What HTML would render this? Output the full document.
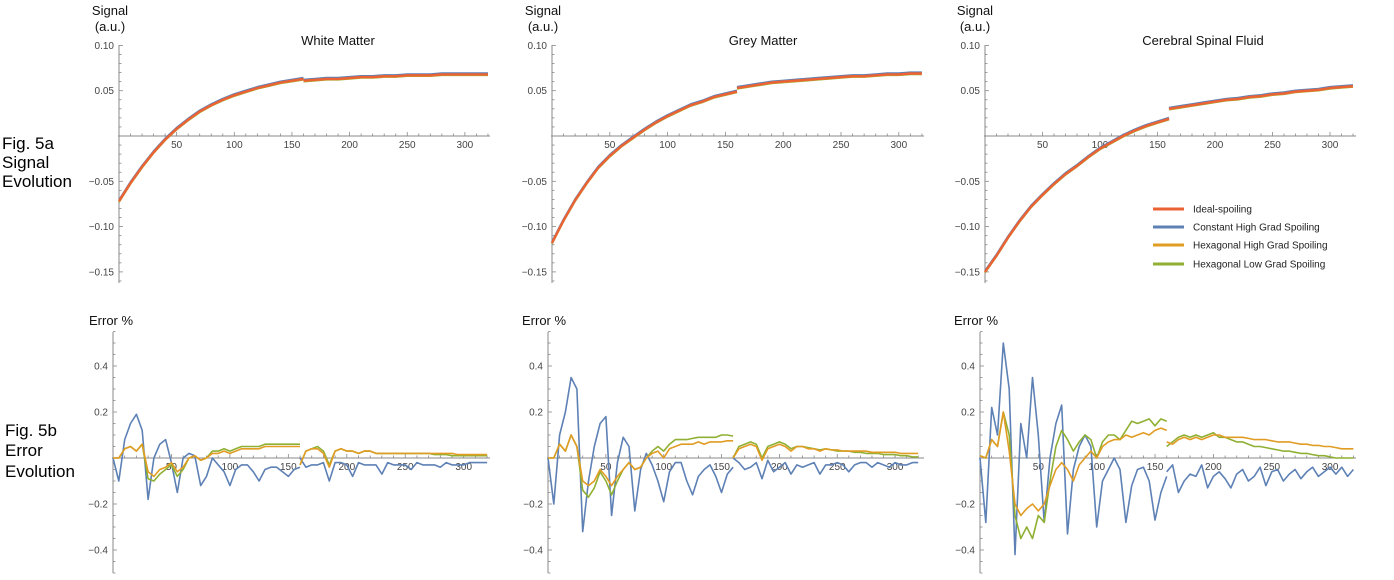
<!DOCTYPE html>
<html><head><meta charset="utf-8"><style>
body{margin:0;background:#fff;width:1394px;height:575px;overflow:hidden;font-family:"Liberation Sans",sans-serif}
svg text{font-family:"Liberation Sans",sans-serif}
</style></head><body>
<svg id="chart" width="1394" height="575" viewBox="0 0 1394 575" xmlns="http://www.w3.org/2000/svg">
<g font-size="17" fill="#000">
<text x="2" y="149">Fig. 5a</text>
<text x="2" y="168">Signal</text>
<text x="2" y="187">Evolution</text>
<text x="5" y="436">Fig. 5b</text>
<text x="5" y="456">Error</text>
<text x="5" y="477">Evolution</text>
</g>
<g id="plots"></g>
<g font-size="10" fill="#222">
<line x1="1153" y1="209" x2="1184" y2="209" stroke="#EB6235" stroke-width="3"/><text x="1193" y="212.5">Ideal-spoiling</text>
<line x1="1153" y1="227" x2="1184" y2="227" stroke="#5E81B5" stroke-width="3"/><text x="1193" y="230.5">Constant High Grad Spoiling</text>
<line x1="1153" y1="245" x2="1184" y2="245" stroke="#E19C24" stroke-width="3"/><text x="1193" y="248.5">Hexagonal High Grad Spoiling</text>
<line x1="1153" y1="264" x2="1184" y2="264" stroke="#8FB032" stroke-width="3"/><text x="1193" y="267.5">Hexagonal Low Grad Spoiling</text>
</g>
</svg>
<script>
// Signal data: x = 0..160 step 10 (segment 1) and 160..320 step 10 (segment 2)
const sigX1=[0,10,20,30,40,50,60,70,80,90,100,110,120,130,140,150,160];
const sigX2=[160,170,180,190,200,210,220,230,240,250,260,270,280,290,300,310,320];
const wmSig1=[-0.072,-0.052,-0.034,-0.018,-0.004,0.008,0.018,0.027,0.034,0.040,0.045,0.049,0.053,0.056,0.059,0.061,0.063];
const wmSig2=[0.061,0.062,0.063,0.063,0.064,0.065,0.065,0.066,0.066,0.067,0.067,0.067,0.068,0.068,0.068,0.068,0.068];
const gmSig1=[-0.118,-0.093,-0.071,-0.052,-0.035,-0.022,-0.011,-0.002,0.007,0.015,0.022,0.028,0.034,0.038,0.043,0.046,0.049];
const gmSig2=[0.053,0.055,0.057,0.059,0.060,0.061,0.062,0.063,0.064,0.065,0.066,0.066,0.067,0.068,0.068,0.069,0.069];
const csfSig1=[-0.150,-0.132,-0.112,-0.094,-0.078,-0.065,-0.053,-0.042,-0.033,-0.023,-0.014,-0.007,0.000,0.006,0.011,0.015,0.019];
const csfSig2=[0.030,0.032,0.034,0.036,0.038,0.040,0.041,0.043,0.044,0.046,0.047,0.049,0.050,0.051,0.053,0.054,0.055];

// Error data: x = 0..160 step 5 and 160..320 step 5
const errX1=[0,5,10,15,20,25,30,35,40,45,50,55,60,65,70,75,80,85,90,95,100,105,110,115,120,125,130,135,140,145,150,155,160];
const errX2=[160,165,170,175,180,185,190,195,200,205,210,215,220,225,230,235,240,245,250,255,260,265,270,275,280,285,290,295,300,305,310,315,320];
const wmBlue1=[0,-0.1,0.08,0.15,0.19,0.12,-0.18,0.0,0.06,0.08,-0.02,-0.15,0.0,0.02,0.01,-0.12,-0.08,0.0,-0.03,-0.06,-0.12,-0.05,-0.03,-0.03,-0.06,-0.1,-0.05,-0.04,-0.04,-0.06,-0.08,-0.05,-0.04];
const wmBlue2=[0.0,-0.04,-0.03,-0.03,-0.02,-0.1,-0.02,-0.02,-0.03,-0.08,-0.02,-0.03,-0.03,-0.03,-0.07,-0.02,-0.03,-0.03,-0.03,-0.05,-0.02,-0.03,-0.03,-0.03,-0.04,-0.02,-0.03,-0.03,-0.03,-0.02,-0.02,-0.02,-0.02];
const wmOrange1=[0,0,0.04,0.05,0.03,0.06,-0.06,-0.08,-0.05,-0.04,-0.02,-0.06,-0.04,0.0,0.01,-0.01,0.0,0.02,0.02,0.03,0.02,0.03,0.04,0.04,0.04,0.04,0.05,0.05,0.05,0.05,0.05,0.05,0.05];
const wmOrange2=[-0.03,0.03,0.04,0.04,0.02,-0.04,0.03,0.04,0.03,0.03,0.02,0.03,0.03,0.02,0.02,0.02,0.02,0.02,0.02,0.02,0.02,0.02,0.02,0.02,0.02,0.02,0.02,0.015,0.015,0.015,0.015,0.015,0.015];
const wmGreen1=[0,0,0.04,0.05,0.03,0.06,-0.09,-0.1,-0.07,-0.05,-0.03,-0.08,-0.05,0.0,0.01,-0.01,0.0,0.03,0.03,0.04,0.03,0.04,0.05,0.05,0.05,0.05,0.06,0.06,0.06,0.06,0.06,0.06,0.06];
const wmGreen2=[-0.03,0.03,0.04,0.05,0.03,-0.03,0.03,0.04,0.03,0.03,0.02,0.03,0.03,0.02,0.02,0.02,0.02,0.02,0.02,0.02,0.02,0.02,0.02,0.015,0.015,0.015,0.01,0.01,0.01,0.01,0.01,0.01,0.01];
const gmBlue1=[0,-0.2,0.1,0.2,0.35,0.3,-0.32,-0.1,0.05,0.15,0.18,-0.25,-0.02,0.09,0.05,-0.23,-0.05,0.02,-0.03,-0.1,-0.19,-0.06,-0.02,-0.02,-0.1,-0.16,-0.08,-0.05,-0.03,-0.08,-0.15,-0.07,-0.04];
const gmBlue2=[0.0,-0.02,-0.05,-0.04,-0.02,-0.09,-0.01,-0.06,-0.04,-0.02,-0.07,-0.03,-0.04,-0.03,-0.02,-0.07,-0.03,-0.03,-0.02,-0.03,-0.06,-0.03,-0.02,-0.02,-0.04,-0.02,-0.03,-0.04,-0.02,-0.03,-0.03,-0.02,-0.02];
const gmOrange1=[0,0,0.06,0.03,0.1,0.05,-0.1,-0.12,-0.1,-0.05,-0.08,-0.12,-0.08,-0.05,-0.02,-0.05,-0.04,0.0,0.02,0.03,0.0,0.04,0.05,0.06,0.06,0.06,0.07,0.06,0.07,0.07,0.07,0.075,0.075];
const gmOrange2=[0.0,0.04,0.05,0.06,0.05,-0.01,0.04,0.05,0.06,0.05,0.03,0.05,0.05,0.04,0.04,0.03,0.04,0.035,0.035,0.03,0.03,0.03,0.03,0.03,0.025,0.025,0.025,0.025,0.025,0.02,0.02,0.02,0.02];
const gmGreen1=[0,0,0.06,0.03,0.1,0.05,-0.14,-0.17,-0.13,-0.06,-0.1,-0.16,-0.1,-0.05,-0.02,-0.05,-0.04,0.0,0.03,0.05,0.03,0.06,0.08,0.08,0.08,0.085,0.09,0.09,0.09,0.09,0.1,0.1,0.095];
const gmGreen2=[0.0,0.05,0.06,0.07,0.06,0.0,0.05,0.06,0.07,0.06,0.04,0.05,0.05,0.045,0.04,0.035,0.04,0.035,0.03,0.03,0.03,0.025,0.025,0.02,0.02,0.02,0.015,0.015,0.015,0.01,0.01,0.005,0.005];
const csfBlue1=[0,-0.28,0.22,0.1,0.5,0.3,-0.42,0.15,0.0,0.35,0.1,-0.28,0.0,0.15,0.23,-0.33,-0.05,0.05,0.1,0.05,-0.3,-0.1,-0.05,0.0,-0.05,-0.28,-0.12,-0.05,-0.04,-0.1,-0.27,-0.15,-0.08];
const csfBlue2=[-0.06,-0.03,-0.15,-0.1,-0.07,-0.08,-0.03,-0.13,-0.08,-0.06,-0.09,-0.13,-0.07,-0.05,-0.1,-0.08,-0.04,-0.12,-0.06,-0.05,-0.1,-0.07,-0.05,-0.09,-0.06,-0.04,-0.08,-0.06,-0.04,-0.07,-0.04,-0.08,-0.05];
const csfOrange1=[0.01,0.0,0.08,0.05,0.2,0.03,-0.2,-0.25,-0.22,-0.2,-0.23,-0.2,-0.12,-0.05,-0.02,-0.05,-0.1,-0.03,0.0,0.03,0.0,0.05,0.07,0.08,0.08,0.1,0.09,0.1,0.11,0.1,0.12,0.13,0.12];
const csfOrange2=[0.07,0.06,0.08,0.09,0.08,0.09,0.08,0.09,0.1,0.1,0.09,0.09,0.09,0.09,0.085,0.08,0.08,0.08,0.075,0.07,0.07,0.07,0.065,0.06,0.06,0.055,0.055,0.05,0.05,0.045,0.04,0.04,0.04];
const csfGreen1=[0.01,0.0,0.08,0.05,0.2,0.1,-0.25,-0.35,-0.3,-0.35,-0.25,-0.28,-0.1,0.05,0.12,0.08,0.03,0.07,0.1,0.08,0.0,0.07,0.1,0.1,0.08,0.12,0.16,0.15,0.16,0.17,0.14,0.17,0.16];
const csfGreen2=[0.05,0.07,0.09,0.1,0.09,0.1,0.09,0.1,0.11,0.09,0.09,0.08,0.07,0.07,0.06,0.05,0.05,0.045,0.04,0.035,0.03,0.03,0.025,0.02,0.02,0.015,0.01,0.01,0.005,0.0,0.0,0.0,0.0];

const sigTicks=[0.10,0.05,-0.05,-0.10,-0.15];
const sigTickLabels=["0.10","0.05","\u22120.05","\u22120.10","\u22120.15"];
const errTicks=[0.4,0.2,-0.2,-0.4];
const errTickLabels=["0.4","0.2","\u22120.2","\u22120.4"];
const xTicks=[50,100,150,200,250,300];
const xTickLabels=["50","100","150","200","250","300"];

const NS="http://www.w3.org/2000/svg";
const root=document.getElementById('plots');
const C={ideal:"#EB6235",blue:"#5E81B5",orange:"#E19C24",green:"#8FB032"};
function mk(tag,attrs,parent){const e=document.createElementNS(NS,tag);for(const k in attrs)e.setAttribute(k,attrs[k]);(parent||root).appendChild(e);return e;}

function panel(p){
  const g=mk('g',{});
  
  
  const sx=v=>p.x0+v*p.kx, sy=v=>p.y0-v*p.ky;
  // axes
  const ax=mk('line',{x1:p.x0-1,y1:p.y0,x2:p.xEnd,y2:p.y0,stroke:'#888','stroke-width':1},g);
  
  
  const ay=mk('line',{x1:p.x0,y1:p.yTop,x2:p.x0,y2:p.yBot,stroke:'#888','stroke-width':1},g);
  
  
  // minor/major x ticks
  for(let v=10;v<=320;v+=10){const maj=v%50===0;mk('line',{x1:sx(v),y1:p.y0,x2:sx(v),y2:p.y0-(maj?4:2.5),stroke:'#888','stroke-width':0.8},g);}
  xTicks.forEach((v,i)=>{const t=mk('text',{x:sx(v),y:p.y0+12,'font-size':10,'text-anchor':'middle',fill:'#444'},g);t.textContent=xTickLabels[i];
    
    });
  // y ticks
  for(let v=p.minorFrom;v<=p.minorTo+1e-9;v+=p.minor){const r=Math.round(v/p.minor);const maj=Math.abs(r%p.majEvery)===0;const y=sy(v);if(y<p.yTop-1||y>p.yBot+1)continue;mk('line',{x1:p.x0,y1:y,x2:p.x0+(maj?4:2.5),y2:y,stroke:'#888','stroke-width':0.8},g);}
  p.ticks.forEach((v,i)=>{const t=mk('text',{x:p.x0-5,y:sy(v)+3.5,'font-size':10,'text-anchor':'end',fill:'#444'},g);t.textContent=p.tickLabels[i];
    
    });
  // series
  p.series.forEach(s=>{
    const d=s.xs.map((x,i)=>(i?'L':'M')+sx(x).toFixed(1)+' '+sy(s.ys[i]).toFixed(1)).join(' ');
    const path=mk('path',{d:d,fill:'none',stroke:s.c,'stroke-width':s.w||1.6,'stroke-linejoin':'round'},g);
    
    
  });
}
function sigSeries(a,b){const out=[];[["blue",0.0012],["green",-0.0008],["orange",-0.0004],["ideal",0]].forEach(([c,off])=>{
  [[sigX1,a],[sigX2,b]].forEach(([xs,ys],k)=>out.push({xs:xs,ys:ys.map(v=>v+off),c:C[c],w:c==='ideal'?2.4:2,n:c+'-signal-seg'+(k+1)}));});return out;}
function errSeries(b1,b2,o1,o2,g1,g2){return [
  {xs:errX1,ys:b1,c:C.blue,n:'constant-high-error-seg1'},{xs:errX2,ys:b2,c:C.blue,n:'constant-high-error-seg2'},
  {xs:errX1,ys:g1,c:C.green,n:'hex-low-error-seg1'},{xs:errX2,ys:g2,c:C.green,n:'hex-low-error-seg2'},
  {xs:errX1,ys:o1,c:C.orange,n:'hex-high-error-seg1'},{xs:errX2,ys:o2,c:C.orange,n:'hex-high-error-seg2'}];}

const topBase={y0:136,ky:906,yTop:45,yBot:283,ticks:sigTicks,tickLabels:sigTickLabels,minor:0.01,majEvery:5,minorFrom:-0.17,minorTo:0.10};
const botBase={y0:458,ky:230,yTop:332,yBot:573,ticks:errTicks,tickLabels:errTickLabels,minor:0.05,majEvery:4,minorFrom:-0.5,minorTo:0.55};
panel(Object.assign({},topBase,{name:'white-matter-signal-plot',x0:119,kx:1.153,xEnd:490,series:sigSeries(wmSig1,wmSig2)}));
panel(Object.assign({},topBase,{name:'grey-matter-signal-plot',x0:552,kx:1.156,xEnd:924,series:sigSeries(gmSig1,gmSig2)}));
panel(Object.assign({},topBase,{name:'csf-signal-plot',x0:985,kx:1.15,xEnd:1356,series:sigSeries(csfSig1,csfSig2)}));
panel(Object.assign({},botBase,{name:'white-matter-error-plot',x0:113,kx:1.169,xEnd:490,series:errSeries(wmBlue1,wmBlue2,wmOrange1,wmOrange2,wmGreen1,wmGreen2)}));
panel(Object.assign({},botBase,{name:'grey-matter-error-plot',x0:548,kx:1.157,xEnd:924,series:errSeries(gmBlue1,gmBlue2,gmOrange1,gmOrange2,gmGreen1,gmGreen2)}));
panel(Object.assign({},botBase,{name:'csf-error-plot',x0:980,kx:1.167,xEnd:1356,series:errSeries(csfBlue1,csfBlue2,csfOrange1,csfOrange2,csfGreen1,csfGreen2)}));

// titles
[["White Matter",338,45,"white-matter-title"],["Grey Matter",763,45,"grey-matter-title"],["Cerebral Spinal Fluid",1203,45,"csf-title"]].forEach(([s,x,y,n])=>{
  const t=mk('text',{x:x,y:y,'font-size':13,'text-anchor':'middle',fill:'#111'});t.textContent=s;
  
  });
[[110,89],[543,522],[975,954]].forEach(([cx,ex],i)=>{
  const a=mk('text',{x:cx,y:15,'font-size':13,'text-anchor':'middle',fill:'#111'});a.textContent='Signal';
  
  
  const b=mk('text',{x:cx,y:31,'font-size':13,'text-anchor':'middle',fill:'#111'});b.textContent='(a.u.)';
  
  
  const e=mk('text',{x:ex,y:325,'font-size':13,fill:'#111'});e.textContent='Error %';
  
  
});
</script>
</body></html>
